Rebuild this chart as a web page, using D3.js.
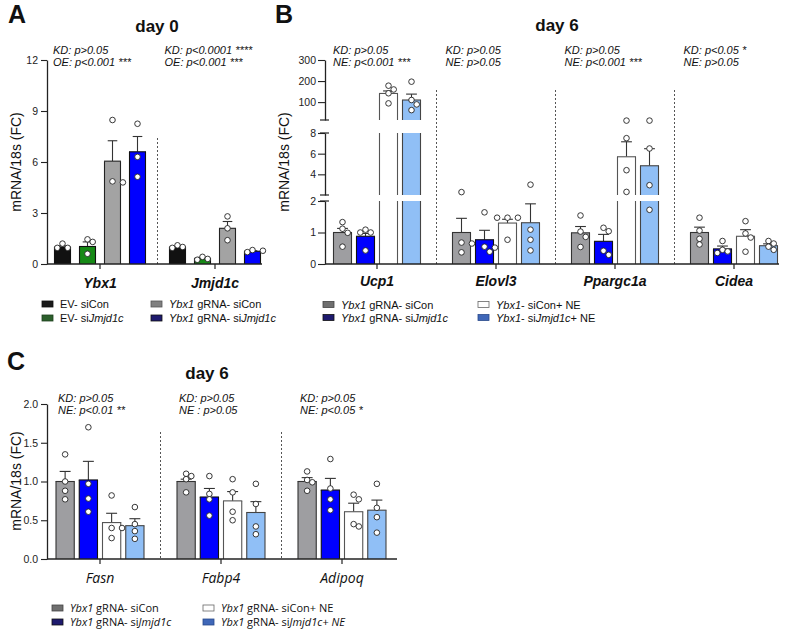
<!DOCTYPE html>
<html><head><meta charset="utf-8">
<script src="https://cdn.jsdelivr.net/npm/d3@7"></script>
<style>body{margin:0;background:#fff} svg{display:block}</style>
</head><body><svg id="c" width="789" height="631"></svg>
<script>
// ---------------- DATA ----------------
const aGenes = ["Ybx1", "Jmjd1c"];
const aGroups = ["EV- siCon", "EV- si*Jmjd1c*", "*Ybx1* gRNA- siCon", "*Ybx1* gRNA- si*Jmjd1c*"];
const aMeans = [[1.0, 1.03, 6.05, 6.6], [1.0, 0.33, 2.1, 0.75]];
const aSems = [[0.07, 0.27, 1.2, 0.9], [0.05, 0.06, 0.4, 0.03]];
const aPoints = [
  [[1.2, 0.95, 0.95], [1.45, 1.3, 0.6], [8.47, 4.86, 4.8], [8.25, 6.3, 5.13]],
  [[1.1, 1.0, 0.95], [0.42, 0.3, 0.25], [2.8, 2.1, 1.4], [0.82, 0.78, 0.7]]
];
const aNotes = [["KD: p>0.05", "OE: p<0.001 ***"], ["KD: p<0.0001 ****", "OE: p<0.001 ***"]];
const aTicks = [0, 3, 6, 9, 12];

const bGenes = ["Ucp1", "Elovl3", "Ppargc1a", "Cidea"];
const bGroups = ["*Ybx1* gRNA- siCon", "*Ybx1* gRNA- si*Jmjd1c*", "*Ybx1*- siCon+ NE", "*Ybx1*- si*Jmjd1c*+ NE"];
const bMeans = [[1.0, 0.88, 141, 110], [1.0, 0.77, 1.3, 1.31], [0.99, 0.72, 5.7, 4.83], [1.0, 0.48, 0.88, 0.58]];
const bSems = [[0.13, 0.09, 12, 28], [0.45, 0.3, 0.12, 0.6], [0.2, 0.22, 1.45, 1.65], [0.17, 0.09, 0.21, 0.06]];
const bPoints = [
  [[1.33, 1.12, 0.99, 0.55], [1.09, 1.0, 1.0, 0.43], [178, 160, 142, 94], [197, 110, 89, 62]],
  [[2.28, 0.68, 0.65, 0.37], [1.64, 0.55, 0.52, 0.39], [1.47, 1.47, 1.47, 0.77], [3.0, 1.09, 0.77, 0.43]],
  [[1.54, 1.03, 0.86, 0.54], [1.15, 1.04, 0.42, 0.29], [9.2, 7.5, 4.4, 2.3], [9.2, 6.5, 2.95, 1.72]],
  [[1.47, 1.06, 0.8, 0.62], [0.73, 0.45, 0.4, 0.35], [1.36, 0.97, 0.84, 0.39], [0.73, 0.65, 0.55, 0.45]]
];
const bNotes = [["KD: p>0.05", "NE: p<0.001 ***"], ["KD: p>0.05", "NE: p>0.05"], ["KD: p>0.05", "NE: p<0.001 ***"], ["KD: p<0.05 *", "NE: p>0.05"]];
const bTicksBottom = [0, 1, 2];
const bTicksMiddle = [4, 6, 8];
const bTicksTop = [100, 200, 300];

const cGenes = ["Fasn", "Fabp4", "Adipoq"];
const cGroups = ["*Ybx1* gRNA- siCon", "*Ybx1* gRNA- si*Jmjd1c*", "*Ybx1* gRNA- siCon+ NE", "*Ybx1* gRNA- si*Jmjd1c+ NE*"];
const cMeans = [[1.0, 1.02, 0.47, 0.43], [1.0, 0.8, 0.75, 0.6], [1.0, 0.89, 0.61, 0.63]];
const cSems = [[0.13, 0.24, 0.12, 0.09], [0.03, 0.11, 0.12, 0.14], [0.05, 0.15, 0.11, 0.13]];
const cPoints = [
  [[1.35, 1.0, 0.88, 0.77], [1.7, 0.97, 0.78, 0.61], [0.82, 0.4, 0.4, 0.27], [0.67, 0.45, 0.36, 0.26]],
  [[1.1, 1.07, 1.03, 0.86], [1.07, 0.84, 0.77, 0.56], [1.03, 0.86, 0.61, 0.5], [0.97, 0.71, 0.42, 0.32]],
  [[1.13, 1.02, 0.99, 0.88], [1.29, 0.91, 0.77, 0.63], [0.83, 0.77, 0.45, 0.42], [0.97, 0.66, 0.54, 0.34]]
];
const cNotes = [["KD: p>0.05", "NE: p<0.01 **"], ["KD: p>0.05", "NE : p>0.05"], ["KD: p>0.05", "NE: p<0.05 *"]];
const cTicks = [0, 0.5, 1.0, 1.5, 2.0];

// ---------------- STYLE ----------------
const ARIAL = '"Liberation Sans", Arial, sans-serif';
const OPEN = '"Open Sans", "Noto Sans", sans-serif';
const aFill = ["#111111", "#168a16", "#a3a3a3", "#0000ff"];
const aStroke = ["#111", "#111", "#222", "#111"];
const aLegend = ["#1a1a1a", "#2c5f2c", "#808080", "#1e1a6e"];
const bFill = ["#9e9ea1", "#0000ff", "#ffffff", "#90bff6"];
const bStroke = ["#333", "#111", "#555", "#444"];
const bLegend = ["#6f6f6f", "#1e1a6e", "#ffffff", "#3f67b8"];

const svg = d3.select("#c");

function rich(t, str) {
  str.split("*").forEach((p, i) => {
    if (!p) return;
    const ts = t.append("tspan").text(p);
    if (i % 2) ts.attr("font-style", "italic");
  });
}

function dodge(ys, minD, step) {
  const placed = [];
  const dx = new Array(ys.length).fill(0);
  const order = d3.range(ys.length).sort((a, b) => ys[a] - ys[b]);
  order.forEach(i => {
    const c = [0];
    for (let k = 1; k < 6; k++) c.push(k * step, -k * step);
    for (const o of c) {
      if (placed.every(p => Math.hypot(p.x - o, p.y - ys[i]) >= minD)) {
        dx[i] = o; placed.push({x: o, y: ys[i]}); break;
      }
    }
  });
  return dx;
}

function drawBars(cfg) {
  const g = svg.append("g");
  const outer = d3.scaleBand().domain(cfg.genes).range(cfg.xRange);
  const inner = d3.scaleBand().domain(d3.range(4)).range([-cfg.half, cfg.half])
    .paddingInner(cfg.pi).paddingOuter(cfg.pi / 2);
  const bw = inner.bandwidth();
  cfg.genes.forEach((gene, gi) => {
    if (gi === 0) return;
    const x = outer(gene);
    g.append("line").attr("x1", x).attr("x2", x).attr("y1", cfg.sepTop).attr("y2", cfg.base)
      .attr("stroke", "#555").attr("stroke-width", 1).attr("stroke-dasharray", "2,2");
  });
  cfg.genes.forEach((gene, gi) => {
    const cx = outer(gene) + outer.bandwidth() / 2;
    const nx = cfg.noteX(outer(gene), cx, gi);
    cfg.notes[gi].forEach((n, li) => {
      g.append("text").attr("x", nx).attr("y", cfg.noteY[li]).text(n)
        .attr("font-family", ARIAL).attr("font-style", "italic").attr("font-size", 11).attr("fill", "#111");
    });
    g.append("line").attr("x1", cx).attr("x2", cx).attr("y1", cfg.base).attr("y2", cfg.base + 5)
      .attr("stroke", "#222").attr("stroke-width", 1.2);
    g.append("text").attr("x", cx).attr("y", cfg.catY).attr("text-anchor", "middle").text(gene)
      .attr("font-family", cfg.catFont).attr("font-weight", cfg.catWeight).attr("font-style", "italic")
      .attr("font-size", 14).attr("fill", "#111");
    for (let k = 0; k < 4; k++) {
      const x0 = cx + inner(k), x1 = x0 + bw, xm = x0 + bw / 2;
      const m = cfg.means[gi][k], s = cfg.sems[gi][k];
      const yb = cfg.y(m), ye = cfg.y(m + s);
      g.append("line").attr("x1", xm).attr("x2", xm).attr("y1", yb).attr("y2", ye)
        .attr("stroke", "#333").attr("stroke-width", 1.1);
      g.append("line").attr("x1", xm - bw * 0.3).attr("x2", xm + bw * 0.3).attr("y1", ye).attr("y2", ye)
        .attr("stroke", "#333").attr("stroke-width", 1.1);
      const segs = cfg.segs(m);
      segs.forEach(([ya, yz]) => {
        g.append("rect").attr("x", x0).attr("y", yz).attr("width", bw).attr("height", ya - yz)
          .attr("fill", cfg.fill[k]);
        g.append("path").attr("d", `M${x0},${ya}V${yz}M${x1},${ya}V${yz}`)
          .attr("stroke", cfg.stroke[k]).attr("stroke-width", 1.1).attr("fill", "none");
      });
      const topY = segs[segs.length - 1][1];
      g.append("line").attr("x1", x0 - 0.5).attr("x2", x1 + 0.5).attr("y1", topY).attr("y2", topY)
        .attr("stroke", cfg.stroke[k]).attr("stroke-width", 1.1);
      const pys = cfg.points[gi][k].map(v => cfg.y(v));
      const dxs = dodge(pys, 5.4, 5.2);
      pys.forEach((py, pi) => {
        g.append("circle").attr("cx", xm + dxs[pi]).attr("cy", py).attr("r", 2.8)
          .attr("fill", "#fff").attr("stroke", "#222").attr("stroke-width", 0.9);
      });
    }
  });
  g.append("line").attr("x1", cfg.axisX).attr("x2", cfg.axisEnd).attr("y1", cfg.base).attr("y2", cfg.base)
    .attr("stroke", "#222").attr("stroke-width", 1.3);
}

function styleAxis(ax) {
  ax.select(".domain").attr("stroke", "#222").attr("stroke-width", 1.3);
  ax.selectAll(".tick line").attr("stroke", "#222").attr("stroke-width", 1.1);
  ax.selectAll(".tick text").attr("font-family", ARIAL).attr("font-size", 10.5).attr("fill", "#222");
}

function legend(items, colors, cols, rows, font, strokes) {
  items.forEach((it, i) => {
    const col = Math.floor(i / 2), row = i % 2;
    const x = cols[col], y = rows[row];
    svg.append("rect").attr("x", x).attr("y", y - 3).attr("width", 11).attr("height", 6)
      .attr("fill", colors[i]).attr("stroke", strokes[i]).attr("stroke-width", 0.8);
    const t = svg.append("text").attr("x", x + 18).attr("y", y + 4)
      .attr("font-family", font).attr("font-size", 11).attr("fill", "#111");
    rich(t, it);
  });
}

function ylabel(x, y, txt) {
  svg.append("text").attr("transform", `translate(${x},${y}) rotate(-90)`).attr("text-anchor", "middle")
    .attr("font-family", ARIAL).attr("font-size", 14).attr("fill", "#111").text(txt);
}
function heading(x, y, txt, size) {
  svg.append("text").attr("x", x).attr("y", y).attr("text-anchor", "middle").attr("font-family", ARIAL)
    .attr("font-weight", "bold").attr("font-size", size).attr("fill", "#111").text(txt);
}

// ---------------- PANEL A ----------------
const yA = d3.scaleLinear().domain([0, 12]).range([264, 60]);
drawBars({
  genes: aGenes, means: aMeans, sems: aSems, points: aPoints, notes: aNotes,
  xRange: [42.5, 272.5], half: 50, pi: 0.36, base: 264, sepTop: 138,
  y: yA, segs: v => [[yA(0), yA(v)]], fill: aFill, stroke: aStroke,
  noteX: (left, cx, gi) => gi === 0 ? 53 : left + 7, noteY: [54, 66],
  catY: 288, catFont: ARIAL, catWeight: "bold", axisX: 47, axisEnd: 262
});
styleAxis(svg.append("g").attr("transform", "translate(47,0)")
  .call(d3.axisLeft(yA).tickValues(aTicks).tickSize(6).tickSizeOuter(0).tickPadding(3)));
ylabel(21, 162, "mRNA/18s (FC)");
heading(17, 23, "A", 25);
heading(157, 32, "day 0", 17);
legend(aGroups, aLegend, [42, 151], [304, 318], ARIAL, ["#111", "#1e3f1e", "#555", "#111"]);

// ---------------- PANEL B ----------------
const yBot = d3.scaleLinear().domain([0, 2]).range([264, 201]);
const yMid = d3.scaleLinear().domain([2, 8]).range([195, 133]);
const yTop = d3.scaleLinear().domain([15, 300]).range([120, 60]);
const yB = v => v <= 2 ? yBot(v) : (v <= 12 ? yMid(v) : yTop(v));
const segsB = v => {
  const s = [[yBot(0), yBot(Math.min(v, 2))]];
  if (v > 2) s.push([yMid(2), yMid(Math.min(v, 8))]);
  if (v > 15) s.push([yTop(15), yTop(v)]);
  return s;
};
drawBars({
  genes: bGenes, means: bMeans, sems: bSems, points: bPoints, notes: bNotes,
  xRange: [317.5, 793.5], half: 46, pi: 0.217, base: 264, sepTop: 90,
  y: yB, segs: segsB, fill: bFill, stroke: bStroke,
  noteX: (left, cx, gi) => gi === 0 ? 333 : left + 9, noteY: [54, 66],
  catY: 286, catFont: ARIAL, catWeight: "bold", axisX: 325, axisEnd: 779
});
[[yBot, bTicksBottom], [yMid, bTicksMiddle], [yTop, bTicksTop]].forEach(([sc, tv]) => {
  styleAxis(svg.append("g").attr("transform", "translate(325,0)")
    .call(d3.axisLeft(sc).tickValues(tv).tickFormat(d3.format("d")).tickSize(7).tickSizeOuter(0).tickPadding(2)));
});
[120, 133, 195, 201].forEach(y => {
  svg.append("line").attr("x1", 320).attr("x2", 329).attr("y1", y).attr("y2", y)
    .attr("stroke", "#222").attr("stroke-width", 1.2);
});
ylabel(289, 162, "mRNA/18s (FC)");
heading(284, 23, "B", 25);
heading(557, 31, "day 6", 17);
legend(bGroups, bLegend, [323, 478], [304.5, 317.5], ARIAL, ["#444", "#111", "#666", "#2a4a8a"]);

// ---------------- PANEL C ----------------
const yC = d3.scaleLinear().domain([0, 2]).range([559, 404]);
drawBars({
  genes: cGenes, means: cMeans, sems: cSems, points: cPoints, notes: cNotes,
  xRange: [39.5, 402.5], half: 46.5, pi: 0.215, base: 559, sepTop: 432,
  y: yC, segs: v => [[yC(0), yC(v)]], fill: bFill, stroke: bStroke,
  noteX: (left, cx, gi) => cx - 42, noteY: [401.5, 414],
  catY: 583, catFont: OPEN, catWeight: "normal", axisX: 47, axisEnd: 397
});
styleAxis(svg.append("g").attr("transform", "translate(47,0)")
  .call(d3.axisLeft(yC).tickValues(cTicks).tickFormat(d3.format(".1f")).tickSize(6).tickSizeOuter(0).tickPadding(3)));
ylabel(21, 481, "mRNA/18s (FC)");
heading(16, 370, "C", 25);
heading(207, 379, "day 6", 17);
legend(cGroups, bLegend, [52, 203], [608, 622], OPEN, ["#444", "#111", "#666", "#2a4a8a"]);
</script>
</body></html>
